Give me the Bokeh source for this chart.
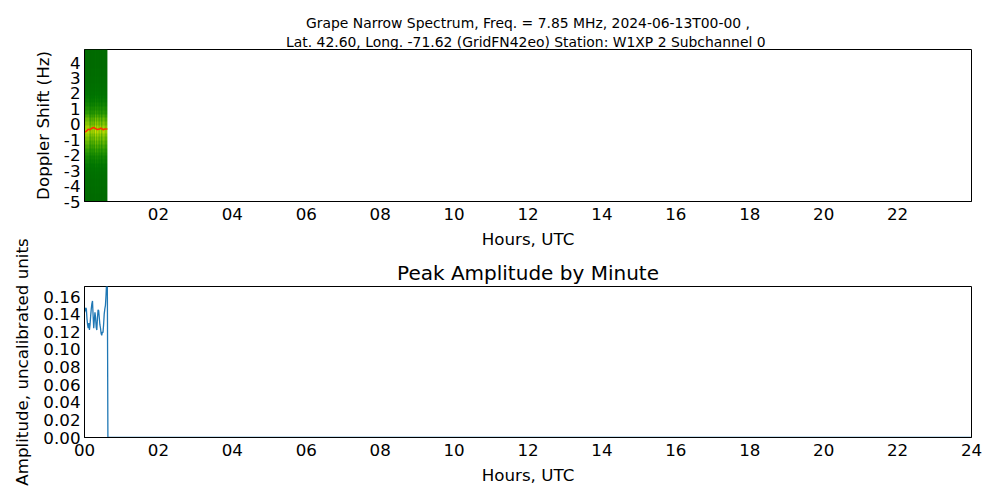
import numpy as np
from bokeh.plotting import figure
from bokeh.models import Range1d, FixedTicker, Title, LinearColorMapper
from bokeh.layouts import column
from bokeh.embed import file_html
from bokeh.resources import INLINE

# ---------------- data ----------------
TITLE_LINE_1 = "Grape Narrow Spectrum, Freq. = 7.85 MHz, 2024-06-13T00-00 ,"
TITLE_LINE_2 = "Lat.  42.60, Long. -71.62 (GridFN42eo) Station: W1XP 2 Subchannel 0"
BOTTOM_TITLE = "Peak Amplitude by Minute"

top_xticks = [2, 4, 6, 8, 10, 12, 14, 16, 18, 20, 22]
top_xlabels = ["02", "04", "06", "08", "10", "12", "14", "16", "18", "20", "22"]
bottom_xticks = [0, 2, 4, 6, 8, 10, 12, 14, 16, 18, 20, 22, 24]
bottom_xlabels = ["00", "02", "04", "06", "08", "10", "12", "14", "16", "18", "20", "22", "24"]
doppler_ticks = [-5, -4, -3, -2, -1, 0, 1, 2, 3, 4]
doppler_labels = ["-5", "-4", "-3", "-2", "-1", "0", "1", "2", "3", "4"]
amp_ticks = [0.0, 0.02, 0.04, 0.06, 0.08, 0.10, 0.12, 0.14, 0.16]
amp_labels = ["0.00", "0.02", "0.04", "0.06", "0.08", "0.10", "0.12", "0.14", "0.16"]

# spectrogram (Doppler shift -5 .. 4.85 Hz, recorded 0 .. 0.62 h)
spec_start_h = 0.0
spec_end_h = 0.62
doppler_min = -5.0
doppler_max = 4.85
# relative intensity per Doppler bin (bottom to top), 0 = background, 1 = peak
doppler_profile = [0.08, 0.08, 0.09, 0.09, 0.10, 0.10, 0.11, 0.12, 0.13, 0.15,
                   0.18, 0.21, 0.25, 0.29, 0.33, 0.37, 0.41, 0.45, 0.50, 0.47,
                   0.42, 0.38, 0.33, 0.28, 0.24, 0.20, 0.17, 0.15, 0.13, 0.12,
                   0.11, 0.10, 0.10, 0.09, 0.09, 0.08, 0.08, 0.08, 0.08, 0.08]
# per-minute column gain (vertical striping)
minute_gain = [1.0, 0.9, 1.1, 0.95, 1.05, 1.15, 0.9, 1.0, 1.1, 0.85,
               1.0, 1.05, 0.95, 1.1, 1.0, 0.9, 1.05, 1.15, 1.0, 0.95,
               1.1, 0.9, 1.0, 1.05, 0.95, 1.1, 1.0, 0.85, 1.0, 1.05,
               1.1, 0.95, 1.0, 0.9, 1.05, 1.0, 0.95, 1.1]
# Doppler of the strongest bin (red trace)
peak_track_h = [0.0, 0.05, 0.10, 0.15, 0.20, 0.25, 0.30, 0.35, 0.40, 0.45, 0.50, 0.55, 0.62]
peak_track_hz = [-0.50, -0.45, -0.32, -0.35, -0.25, -0.20, -0.28, -0.33, -0.30, -0.25, -0.35, -0.30, -0.30]

# peak amplitude by minute
amp_minutes = list(range(0, 39)) + [1439]
amp_values = [0.142, 0.144, 0.147, 0.146, 0.135, 0.128, 0.124, 0.130, 0.122, 0.128,
              0.138, 0.146, 0.152, 0.155, 0.138, 0.124, 0.134, 0.142, 0.136, 0.125,
              0.122, 0.135, 0.145, 0.144, 0.136, 0.128, 0.124, 0.118, 0.116, 0.120,
              0.119, 0.128, 0.140, 0.146, 0.150, 0.162, 0.178, 0.190, 0.0, 0.0]

# ---------------- styling ----------------
FONT = "DejaVu Sans"
LINE_BLUE = "#1f77b4"

anchors = [(0.0, (0, 95, 0)), (0.15, (0, 118, 0)), (0.3, (40, 150, 0)),
           (0.45, (130, 195, 0)), (0.6, (220, 225, 0)), (0.75, (255, 200, 0)),
           (0.88, (255, 120, 0)), (1.0, (255, 0, 0))]
palette = []
for k in range(256):
    t = k / 255
    for (t0, c0), (t1, c1) in zip(anchors[:-1], anchors[1:]):
        if t0 <= t <= t1:
            f = (t - t0) / (t1 - t0)
            c = [int(round(a + (b - a) * f)) for a, b in zip(c0, c1)]
            palette.append("#%02x%02x%02x" % tuple(c))
            break


def style(p):
    p.grid.visible = False
    p.outline_line_color = "black"
    p.outline_line_alpha = 1.0
    p.outline_line_width = 1
    for ax in (p.xaxis[0], p.yaxis[0]):
        ax.major_tick_out = 0
        ax.major_tick_in = 0
        ax.minor_tick_out = 0
        ax.minor_tick_in = 0
        ax.axis_line_color = "black"
        ax.major_label_text_font = FONT
        ax.major_label_text_font_size = "16.7px"
        ax.major_label_text_color = "black"
        ax.axis_label_text_font = FONT
        ax.axis_label_text_font_size = "16.7px"
        ax.axis_label_text_font_style = "normal"
        ax.axis_label_text_color = "black"
    p.xaxis.major_label_standoff = 6
    p.xaxis.axis_label_standoff = 6
    p.yaxis.major_label_standoff = 4
    p.yaxis.axis_label_standoff = 8


# ---------------- top: spectrogram ----------------
p1 = figure(width=992, height=258, output_backend="svg", toolbar_location=None,
            x_range=Range1d(0, 24), y_range=Range1d(doppler_min, doppler_max),
            min_border_left=84, min_border_right=21, min_border_top=49, min_border_bottom=57,
            title=TITLE_LINE_1)
p1.title.align = "center"
p1.title.text_font = FONT
p1.title.text_font_size = "13.9px"
p1.title.text_font_style = "normal"
p1.title.text_color = "black"
p1.title.standoff = 2
p1.add_layout(Title(text=TITLE_LINE_2, align="center", text_font=FONT, text_color="black",
                    text_font_size="13.9px", text_font_style="normal", standoff=0), "above")

spec = np.array(doppler_profile)[:, None] * np.array(minute_gain)[None, :]
spec = np.clip(spec, 0, 1)
mapper = LinearColorMapper(palette=palette, low=0, high=1)
p1.image(image=[spec], x=spec_start_h, y=doppler_min, dw=spec_end_h - spec_start_h,
         dh=doppler_max - doppler_min, color_mapper=mapper)
p1.line(peak_track_h, peak_track_hz, line_color="#ff3000", line_width=1.6)

p1.xaxis.ticker = FixedTicker(ticks=top_xticks)
p1.xaxis.major_label_overrides = {t: l for t, l in zip(top_xticks, top_xlabels)}
p1.yaxis.ticker = FixedTicker(ticks=doppler_ticks)
p1.yaxis.major_label_overrides = {t: l for t, l in zip(doppler_ticks, doppler_labels)}
p1.xaxis.axis_label = "Hours, UTC"
p1.yaxis.axis_label = "Doppler Shift (Hz)"
style(p1)

# ---------------- bottom: peak amplitude ----------------
p2 = figure(width=992, height=254, output_backend="svg", toolbar_location=None,
            x_range=Range1d(0, 24), y_range=Range1d(0, 0.1714),
            min_border_left=84, min_border_right=21, min_border_top=48, min_border_bottom=55,
            title=BOTTOM_TITLE)
p2.margin = (-20, 0, 0, 0)
p2.border_fill_alpha = 0
p2.title.align = "center"
p2.title.text_font = FONT
p2.title.text_font_size = "20px"
p2.title.text_font_style = "normal"
p2.title.text_color = "black"
p2.title.standoff = 4
hours = [m / 60 for m in amp_minutes]
p2.line(hours, amp_values, line_color=LINE_BLUE, line_width=1.3)
p2.xaxis.ticker = FixedTicker(ticks=bottom_xticks)
p2.xaxis.major_label_overrides = {t: l for t, l in zip(bottom_xticks, bottom_xlabels)}
p2.yaxis.ticker = FixedTicker(ticks=amp_ticks)
p2.yaxis.major_label_overrides = {t: l for t, l in zip(amp_ticks, amp_labels)}
p2.xaxis.axis_label = "Hours, UTC"
p2.yaxis.axis_label = "Amplitude, uncalibrated units"
style(p2)

layout = column(p1, p2)
open("out.html", "w").write(file_html(layout, INLINE))
